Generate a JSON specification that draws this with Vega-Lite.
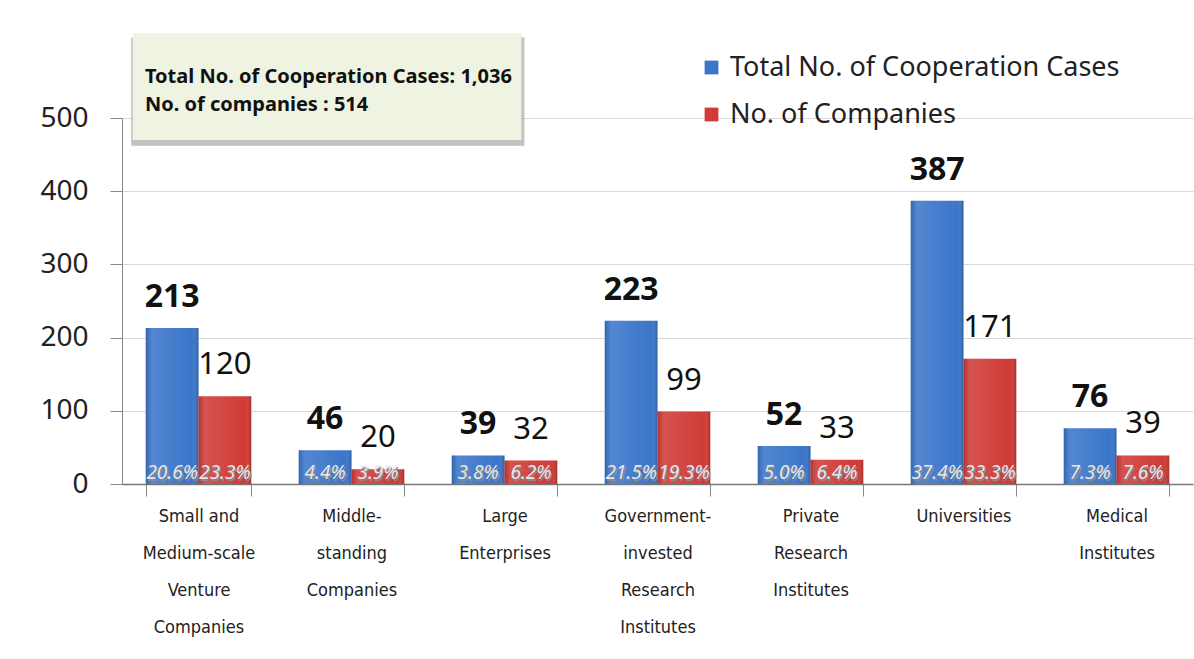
{
  "$schema": "https://vega.github.io/schema/vega-lite/v6.json",
  "width": 1071,
  "height": 366,
  "autosize": {"type": "none"},
  "padding": {"left": 122, "top": 118, "right": 1, "bottom": 175},
  "background": "#ffffff",
  "config": {
    "view": {"stroke": null},
    "font": "Noto Sans"
  },
  "datasets": {
    "bars": [
      {"cat": "Small and|Medium-scale|Venture|Companies", "series": "Total No. of Cooperation Cases", "value": 213, "pct": "20.6%"},
      {"cat": "Small and|Medium-scale|Venture|Companies", "series": "No. of Companies", "value": 120, "pct": "23.3%"},
      {"cat": "Middle-|standing|Companies", "series": "Total No. of Cooperation Cases", "value": 46, "pct": "4.4%"},
      {"cat": "Middle-|standing|Companies", "series": "No. of Companies", "value": 20, "pct": "3.9%"},
      {"cat": "Large|Enterprises", "series": "Total No. of Cooperation Cases", "value": 39, "pct": "3.8%"},
      {"cat": "Large|Enterprises", "series": "No. of Companies", "value": 32, "pct": "6.2%"},
      {"cat": "Government-|invested|Research|Institutes", "series": "Total No. of Cooperation Cases", "value": 223, "pct": "21.5%"},
      {"cat": "Government-|invested|Research|Institutes", "series": "No. of Companies", "value": 99, "pct": "19.3%"},
      {"cat": "Private|Research|Institutes", "series": "Total No. of Cooperation Cases", "value": 52, "pct": "5.0%"},
      {"cat": "Private|Research|Institutes", "series": "No. of Companies", "value": 33, "pct": "6.4%"},
      {"cat": "Universities", "series": "Total No. of Cooperation Cases", "value": 387, "pct": "37.4%"},
      {"cat": "Universities", "series": "No. of Companies", "value": 171, "pct": "33.3%"},
      {"cat": "Medical|Institutes", "series": "Total No. of Cooperation Cases", "value": 76, "pct": "7.3%"},
      {"cat": "Medical|Institutes", "series": "No. of Companies", "value": 39, "pct": "7.6%"}
    ],
    "box": [
      {"x1": 0.07, "x2": 2.61, "y1": 470, "y2": 616, "kind": "box"},
      {"x1": 0.06, "x2": 2.63, "y1": 462, "y2": 610, "kind": "shadow"}
    ],
    "note": [
      {"x": 0.15, "y": 548, "text": "Total No. of Cooperation Cases: 1,036"},
      {"x": 0.15, "y": 509, "text": "No. of companies : 514"}
    ]
  },
  "layer": [
    {
      "data": {"name": "box"},
      "layer": [
        {
          "transform": [{"filter": "datum.kind == 'shadow'"}],
          "mark": {"type": "rect", "color": "#8f8f8f", "opacity": 0.55},
          "encoding": {
            "x": {"field": "x1", "type": "quantitative", "scale": {"domain": [0, 7], "nice": false, "zero": false}, "axis": null},
            "x2": {"field": "x2"},
            "y": {"field": "y1", "type": "quantitative", "scale": {"domain": [0, 500], "nice": false}},
            "y2": {"field": "y2"}
          }
        },
        {
          "transform": [{"filter": "datum.kind == 'box'"}],
          "mark": {"type": "rect", "color": "#eef4e1"},
          "encoding": {
            "x": {"field": "x1", "type": "quantitative", "scale": {"domain": [0, 7], "nice": false, "zero": false}, "axis": null},
            "x2": {"field": "x2"},
            "y": {"field": "y1", "type": "quantitative"},
            "y2": {"field": "y2"}
          }
        },
        {
          "data": {"name": "note"},
          "mark": {"type": "text", "align": "left", "baseline": "alphabetic", "fontSize": 20, "fontWeight": "bold", "color": "#111111"},
          "encoding": {
            "x": {"field": "x", "type": "quantitative", "scale": {"domain": [0, 7], "nice": false, "zero": false}, "axis": null},
            "y": {"field": "y", "type": "quantitative"},
            "text": {"field": "text"}
          }
        }
      ]
    },
    {
      "data": {"name": "bars"},
      "encoding": {
        "x": {
          "field": "cat", "type": "nominal", "sort": null,
          "scale": {"paddingInner": 0.31, "paddingOuter": 0.155},
          "axis": {
            "title": null, "labelAngle": 0,
            "labelExpr": "split(datum.label, '|')",
            "labelFont": "DejaVu Sans Condensed, Liberation Sans Narrow, Roboto, sans-serif",
            "labelFontSize": 18, "labelLineHeight": 37, "labelColor": "#222222",
            "labelPadding": 11, "labelBaseline": "top",
            "tickBand": "extent", "tickSize": 12, "tickColor": "#888888",
            "domainColor": "#777777", "domainWidth": 1.5, "labelLimit": 200
          }
        },
        "xOffset": {"field": "series", "type": "nominal", "sort": ["Total No. of Cooperation Cases", "No. of Companies"]},
        "y": {
          "field": "value", "type": "quantitative",
          "scale": {"domain": [0, 500], "nice": false},
          "axis": {
            "title": null, "values": [0, 100, 200, 300, 400, 500],
            "labelFontSize": 28, "labelColor": "#222222", "labelPadding": 22,
            "tickSize": 12, "tickColor": "#888888", "domainColor": "#888888",
            "gridColor": "#d9d9d9"
          }
        }
      },
      "layer": [
        {
          "mark": {"type": "bar"},
          "encoding": {
            "color": {
              "field": "series", "type": "nominal",
              "scale": {"domain": ["Total No. of Cooperation Cases", "No. of Companies"], "range": ["#3b76ca", "#d03b37"]},
              "legend": {
                "title": null, "orient": "none", "legendX": 576, "legendY": -64,
                "symbolType": "square", "symbolSize": 190, "symbolStrokeWidth": 0,
                "labelFontSize": 27, "labelColor": "#222222", "labelOffset": 5,
                "rowPadding": 19, "labelLimit": 600
              }
            }
          }
        },
        {
          "mark": {
            "type": "bar",
            "color": {
              "gradient": "linear", "x1": 0, "x2": 1, "y1": 0, "y2": 0,
              "stops": [
                {"offset": 0, "color": "rgba(0,0,0,0.15)"},
                {"offset": 0.12, "color": "rgba(255,255,255,0.12)"},
                {"offset": 0.5, "color": "rgba(255,255,255,0.06)"},
                {"offset": 0.88, "color": "rgba(255,255,255,0.0)"},
                {"offset": 1, "color": "rgba(0,0,0,0.2)"}
              ]
            }
          }
        },
        {
          "transform": [{"filter": "datum.series == 'Total No. of Cooperation Cases'"}],
          "mark": {"type": "text", "baseline": "alphabetic", "dy": -21, "fontSize": 32, "fontWeight": "bold", "color": "#111111"},
          "encoding": {"text": {"field": "value", "type": "quantitative"}}
        },
        {
          "transform": [{"filter": "datum.series == 'No. of Companies'"}],
          "mark": {"type": "text", "baseline": "alphabetic", "dy": -22, "fontSize": 31, "color": "#111111"},
          "encoding": {"text": {"field": "value", "type": "quantitative"}}
        },
        {
          "mark": {"type": "text", "baseline": "alphabetic", "dy": -3.5, "dx": 1.5, "fontSize": 19, "fontStyle": "italic", "color": "#8a8a8a"},
          "encoding": {"y": {"datum": 0, "type": "quantitative"}, "text": {"field": "pct"}}
        },
        {
          "mark": {"type": "text", "baseline": "alphabetic", "dy": -5, "fontSize": 19, "fontStyle": "italic", "color": "#e4e8ee"},
          "encoding": {"y": {"datum": 0, "type": "quantitative"}, "text": {"field": "pct"}}
        }
      ]
    }
  ],
  "resolve": {"scale": {"x": "independent"}, "axis": {"x": "independent"}}
}
